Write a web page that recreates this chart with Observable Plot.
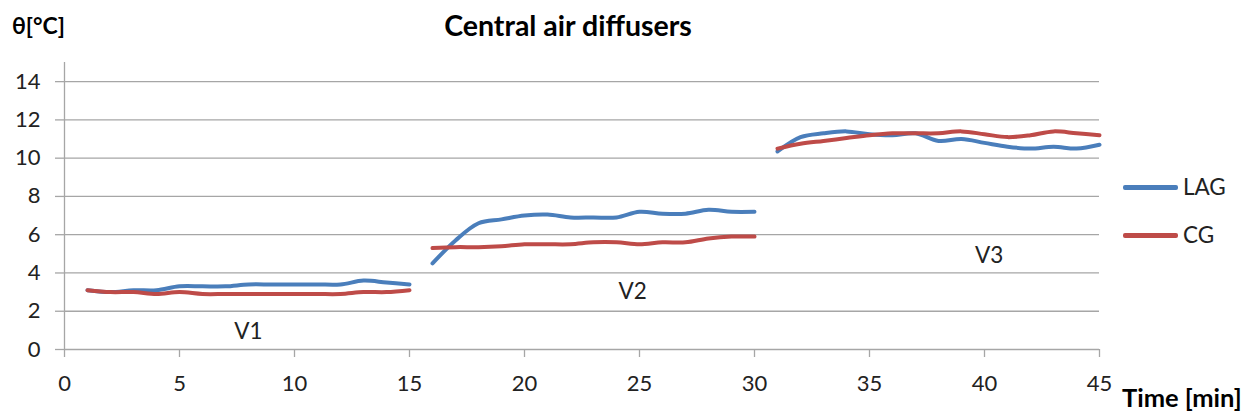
<!DOCTYPE html>
<html>
<head>
<meta charset="utf-8">
<script src="https://cdn.jsdelivr.net/npm/d3@7"></script>
<script src="https://cdn.jsdelivr.net/npm/@observablehq/plot@0.6"></script>
<style>
  html, body { margin: 0; padding: 0; background: #fff; }
  #wrap { position: relative; width: 1253px; height: 418px; font-family: Lato, "Open Sans", sans-serif; color: #000; }
  .abs { position: absolute; white-space: nowrap; line-height: 1; }
  .title { font-weight: bold; font-size: 28.5px; transform: translateX(-50%); }
  .axlab { font-weight: bold; font-size: 23px; }
  .axlab2 { font-weight: bold; font-size: 25.5px; }
  .leg { font-size: 22.5px; color: #222; }
  .legline { position: absolute; height: 5px; width: 55px; border-radius: 2px; }
</style>
</head>
<body>
<div id="wrap"></div>
<script>
// ---- data ----
const time = [1,2,3,4,5,6,7,8,9,10,11,12,13,14,15,
              16,17,18,19,20,21,22,23,24,25,26,27,28,29,30,
              31,32,33,34,35,36,37,38,39,40,41,42,43,44,45];
const lag = [3.1,3.0,3.1,3.1,3.3,3.3,3.3,3.4,3.4,3.4,3.4,3.4,3.6,3.5,3.4,
             4.5,5.7,6.6,6.8,7.0,7.05,6.9,6.9,6.9,7.2,7.1,7.1,7.3,7.2,7.2,
             10.35,11.1,11.3,11.4,11.25,11.2,11.3,10.9,11.0,10.8,10.6,10.5,10.6,10.5,10.7];
const cg = [3.1,3.0,3.0,2.9,3.0,2.9,2.9,2.9,2.9,2.9,2.9,2.9,3.0,3.0,3.1,
            5.3,5.35,5.35,5.4,5.5,5.5,5.5,5.6,5.6,5.5,5.6,5.6,5.8,5.9,5.9,
            10.5,10.75,10.9,11.05,11.2,11.3,11.3,11.3,11.4,11.25,11.1,11.2,11.4,11.3,11.2];
const stageNames = ["V1","V2","V3"];
const stageLabelX = [8, 24.7, 40.2];
const stageLabelY = [0.9, 3.0, 4.9];
const xTicks = [0,5,10,15,20,25,30,35,40,45];
const yTicks = [0,2,4,6,8,10,12,14];
const seriesNames = ["LAG","CG"];
const seriesColors = ["#4A7EBB","#BE4B48"];

const stageOf = t => t <= 15 ? "V1" : t <= 30 ? "V2" : "V3";
const rows = [];
time.forEach((t,i) => {
  rows.push({t, v: lag[i], s: "LAG", z: "LAG-" + stageOf(t)});
});
time.forEach((t,i) => {
  rows.push({t, v: cg[i], s: "CG", z: "CG-" + stageOf(t)});
});
const labels = stageNames.map((n,i) => ({n, x: stageLabelX[i], y: stageLabelY[i]}));

const grid = "#a6a6a6";
const chart = Plot.plot({
  width: 1253,
  height: 418,
  marginLeft: 64,
  marginRight: 154,
  marginTop: 62,
  marginBottom: 69,
  style: {fontFamily: "Lato, 'Open Sans', sans-serif", fontSize: "22px", background: "transparent"},
  x: {domain: [0,45], axis: null},
  y: {domain: [0,15], axis: null},
  color: {domain: seriesNames, range: seriesColors},
  marks: [
    Plot.ruleY(yTicks, {stroke: grid, strokeWidth: 1.3}),
    Plot.ruleX([0], {y1: 0, y2: 15, stroke: grid, strokeWidth: 1.3}),
    Plot.axisY({ticks: yTicks, tickSize: 9, tickPadding: 15, stroke: grid, fill: "#222", strokeWidth: 1.3, label: null, fontSize: 22}),
    Plot.axisX({ticks: xTicks, tickSize: 8, tickPadding: 18, stroke: grid, fill: "#222", strokeWidth: 1.3, label: null, fontSize: 22}),
    Plot.line(rows, {x: "t", y: "v", z: "z", stroke: "s", strokeWidth: 4, curve: "catmull-rom"}),
    Plot.text(labels, {x: "x", y: "y", text: "n", fill: "#222", fontSize: 22.5})
  ]
});

const wrap = document.getElementById("wrap");
wrap.appendChild(chart);

function addText(cls, txt, left, top) {
  const d = document.createElement("div");
  d.className = "abs " + cls;
  d.textContent = txt;
  d.style.left = left + "px";
  d.style.top = top + "px";
  wrap.appendChild(d);
  return d;
}
addText("title", "Central air diffusers", 568, 11);
addText("axlab", "θ[°C]", 12, 14);
addText("axlab2", "Time [min]", 1122, 385);
const legTop = [187, 235];
seriesNames.forEach((n,i) => {
  const l = document.createElement("div");
  l.className = "legline";
  l.style.left = "1123px";
  l.style.top = (legTop[i] - 2.5) + "px";
  l.style.background = seriesColors[i];
  wrap.appendChild(l);
  addText("leg", n, 1183, legTop[i] - 11.5);
});
</script>
</body>
</html>
